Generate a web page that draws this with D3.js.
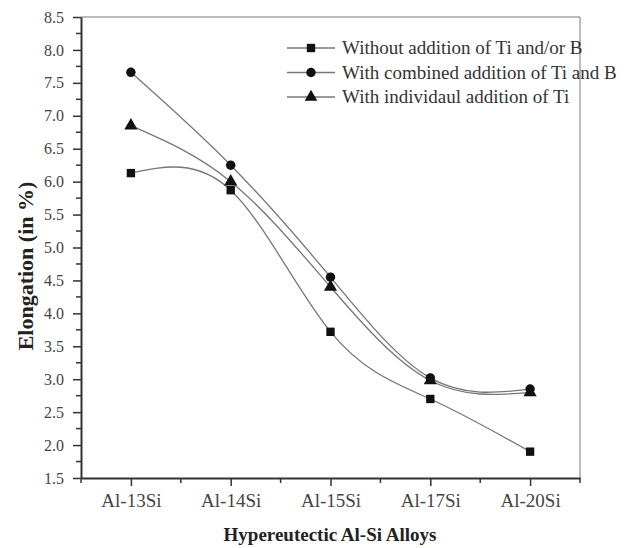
<!DOCTYPE html>
<html>
<head>
<meta charset="utf-8">
<title>Elongation of Hypereutectic Al-Si Alloys</title>
<style>
  body { margin: 0; background: #fff; }
  svg { font-family: "Liberation Serif", "DejaVu Serif", serif; }
  .axis path, .axis line { stroke: #333; }
  .axis text { fill: #444; }
</style>
</head>
<body>
<svg width="631" height="548"></svg>
<script src="https://d3js.org/d3.v7.min.js"></script>
<script>
// data
var alloys = ["Al-13Si", "Al-14Si", "Al-15Si", "Al-17Si", "Al-20Si"];
var withoutTiB = [6.13, 5.87, 3.72, 2.70, 1.90];
var combinedTiB = [7.66, 6.25, 4.55, 3.02, 2.85];
var individualTi = [6.85, 6.00, 4.40, 2.98, 2.80];
var yTicks = [1.5, 2.0, 2.5, 3.0, 3.5, 4.0, 4.5, 5.0, 5.5, 6.0, 6.5, 7.0, 7.5, 8.0, 8.5];

var series = [
  {name: "Without addition of Ti and/or B", values: withoutTiB, shape: d3.symbolSquare},
  {name: "With combined addition of Ti and B", values: combinedTiB, shape: d3.symbolCircle},
  {name: "With individaul addition of Ti", values: individualTi, shape: d3.symbolTriangle}
];

var svg = d3.select("svg");
var margin = {top: 17, right: 51, bottom: 70, left: 81};
var width = 631 - margin.left - margin.right;
var height = 548 - margin.top - margin.bottom;

var g = svg.append("g")
    .attr("transform", "translate(" + margin.left + "," + margin.top + ")");

var x = d3.scalePoint().domain(alloys).range([0, width]).padding(0.5);
var y = d3.scaleLinear().domain([1.5, 8.5]).range([height, 0]);

// frame (top / right)
g.append("path")
    .attr("d", "M0,0H" + width + "V" + height)
    .attr("fill", "none")
    .attr("stroke", "#777")
    .attr("stroke-width", 1);

// minor ticks
var step = x.step();
g.append("g")
    .attr("transform", "translate(0," + height + ")")
    .selectAll("line")
    .data(d3.range(0, alloys.length + 1))
    .enter().append("line")
      .attr("x1", function(i) { return i * step; })
      .attr("x2", function(i) { return i * step; })
      .attr("y1", 0).attr("y2", 5)
      .attr("stroke", "#333").attr("stroke-width", 1.5);

g.append("g")
    .selectAll("line")
    .data(d3.range(1.75, 8.5, 0.5))
    .enter().append("line")
      .attr("y1", function(d) { return y(d); })
      .attr("y2", function(d) { return y(d); })
      .attr("x1", 0).attr("x2", -5)
      .attr("stroke", "#333").attr("stroke-width", 1.5);

g.append("g")
    .attr("class", "axis")
    .attr("transform", "translate(0," + height + ")")
    .call(d3.axisBottom(x).tickSizeInner(8).tickSizeOuter(0).tickPadding(8))
    .call(function(a) {
      a.attr("font-family", null).attr("font-size", 19);
      a.select(".domain").attr("stroke-width", 2);
      a.selectAll(".tick line").attr("stroke-width", 1.5);
    });

g.append("g")
    .attr("class", "axis")
    .call(d3.axisLeft(y).tickValues(yTicks).tickFormat(d3.format(".1f"))
      .tickSizeInner(8).tickSizeOuter(0).tickPadding(9))
    .call(function(a) {
      a.attr("font-family", null).attr("font-size", 16);
      a.select(".domain").attr("stroke-width", 2);
      a.selectAll(".tick line").attr("stroke-width", 1.5);
    });

// lines and markers
var line = d3.line()
    .x(function(d, i) { return x(alloys[i]); })
    .y(function(d) { return y(d); })
    .curve(d3.curveNatural);

series.forEach(function(s) {
  g.append("path")
      .attr("d", line(s.values))
      .attr("fill", "none")
      .attr("stroke", "#777")
      .attr("stroke-width", 1.3);
});

series.forEach(function(s) {
  g.append("g")
    .selectAll("path")
    .data(s.values)
    .enter().append("path")
      .attr("transform", function(d, i) { return "translate(" + x(alloys[i]) + "," + y(d) + ")"; })
      .attr("d", d3.symbol().type(s.shape).size(s.shape === d3.symbolTriangle ? 75 : 70))
      .attr("fill", "#111");
});

// legend
var legend = g.append("g")
    .selectAll("g")
    .data(series)
    .enter().append("g")
      .attr("transform", function(d, i) { return "translate(" + (287 - margin.left) + "," + (48 - margin.top + i * 24.5) + ")"; });

legend.append("line")
    .attr("x1", 0).attr("x2", 48)
    .attr("stroke", "#777").attr("stroke-width", 1.3);

legend.append("path")
    .attr("transform", "translate(24,0)")
    .attr("d", function(d) { return d3.symbol().type(d.shape).size(70)(); })
    .attr("fill", "#111");

legend.append("text")
    .attr("x", 55)
    .attr("dy", "0.32em")
    .attr("font-size", 19)
    .attr("fill", "#333")
    .text(function(d) { return d.name; });

// axis titles
svg.append("text")
    .attr("x", 330)
    .attr("y", 541)
    .attr("text-anchor", "middle")
    .attr("font-weight", "bold")
    .attr("font-size", 19)
    .attr("fill", "#222")
    .text("Hypereutectic Al-Si Alloys");

svg.append("text")
    .attr("transform", "translate(33,266) rotate(-90)")
    .attr("text-anchor", "middle")
    .attr("font-weight", "bold")
    .attr("font-size", 22)
    .attr("fill", "#222")
    .text("Elongation (in %)");
</script>
</body>
</html>
